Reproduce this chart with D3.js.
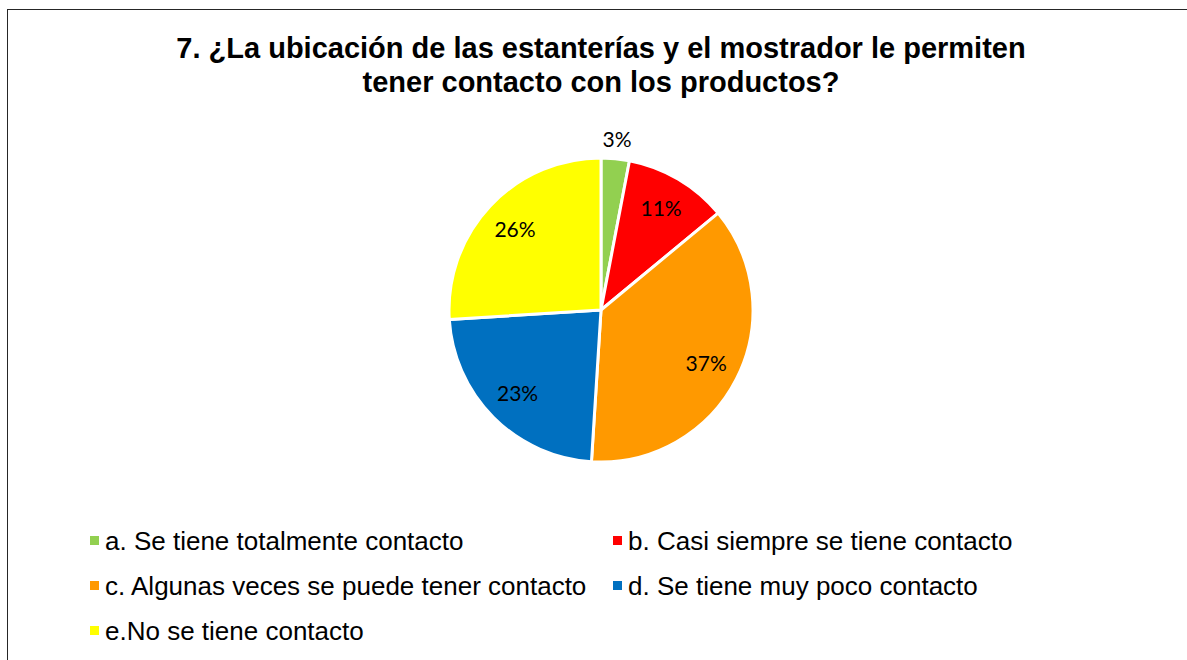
<!DOCTYPE html>
<html>
<head>
<meta charset="utf-8">
<script src="https://cdn.jsdelivr.net/npm/d3@7"></script>
<style>
  body { margin: 0; background: #fff; }
</style>
</head>
<body>
<div id="chart"></div>
<script>
// categories, values and colours for the pie
const categories = [
  "a. Se tiene totalmente contacto",
  "b. Casi siempre se tiene contacto",
  "c. Algunas veces se puede tener contacto",
  "d. Se tiene muy poco contacto",
  "e.No se tiene contacto"
];
const values = [3, 11, 37, 23, 26];
const colors = ["#92d050", "#ff0000", "#ff9900", "#0070c0", "#ffff00"];
const titleLines = [
  "7. ¿La ubicación de las estanterías y el mostrador le permiten",
  "tener contacto con los productos?"
];

const width = 1187;
const height = 660;
const cx = 601, cy = 310, radius = 152;

const svg = d3.select("#chart")
  .append("svg")
  .attr("width", width)
  .attr("height", height);

// chart frame (only top and left edges visible in the picture)
svg.append("rect")
  .attr("x", 7.5)
  .attr("y", 9.5)
  .attr("width", width + 10)
  .attr("height", height + 10)
  .attr("fill", "none")
  .attr("stroke", "#262626")
  .attr("stroke-width", 1);

// title
svg.append("g")
  .selectAll("text")
  .data(titleLines)
  .join("text")
  .attr("x", 601)
  .attr("y", (d, i) => 58 + i * 34)
  .attr("text-anchor", "middle")
  .attr("font-family", "Liberation Sans, Arial, sans-serif")
  .attr("font-weight", "bold")
  .attr("font-size", "29px")
  .attr("fill", "#000")
  .text(d => d);

const data = categories.map((c, i) => ({ name: c, value: values[i], color: colors[i] }));

const pie = d3.pie().sort(null).value(d => d.value);
const arc = d3.arc().innerRadius(0).outerRadius(radius);
const labelArc = d3.arc().innerRadius(118).outerRadius(118);
const outerLabelArc = d3.arc().innerRadius(171).outerRadius(171);

const g = svg.append("g").attr("transform", `translate(${cx},${cy})`);

const arcs = pie(data);

g.selectAll("path")
  .data(arcs)
  .join("path")
  .attr("d", arc)
  .attr("fill", d => d.data.color)
  .attr("stroke", "#fff")
  .attr("stroke-width", 3)
  .attr("stroke-linejoin", "round");

// percentage labels, small slice goes outside
g.selectAll("text")
  .data(arcs)
  .join("text")
  .attr("transform", d => `translate(${(d.data.value < 5 ? outerLabelArc : labelArc).centroid(d)})`)
  .attr("text-anchor", "middle")
  .attr("dy", "0.35em")
  .attr("font-family", "Lato, Carlito, Calibri, sans-serif")
  .attr("font-size", "21px")
  .attr("fill", "#000")
  .text(d => d.data.value + "%");

// legend, two columns
const legend = svg.append("g")
  .selectAll("g")
  .data(data)
  .join("g")
  .attr("transform", (d, i) => `translate(${i % 2 === 0 ? 90 : 613},${541 + Math.floor(i / 2) * 45})`);

legend.append("rect")
  .attr("x", 0)
  .attr("y", -5)
  .attr("width", 9)
  .attr("height", 9)
  .attr("fill", d => d.color);

legend.append("text")
  .attr("x", 15)
  .attr("y", 0)
  .attr("dy", "0.35em")
  .attr("font-family", "Liberation Sans, Arial, sans-serif")
  .attr("font-size", "26px")
  .attr("fill", "#000")
  .text(d => d.name);
</script>
</body>
</html>
